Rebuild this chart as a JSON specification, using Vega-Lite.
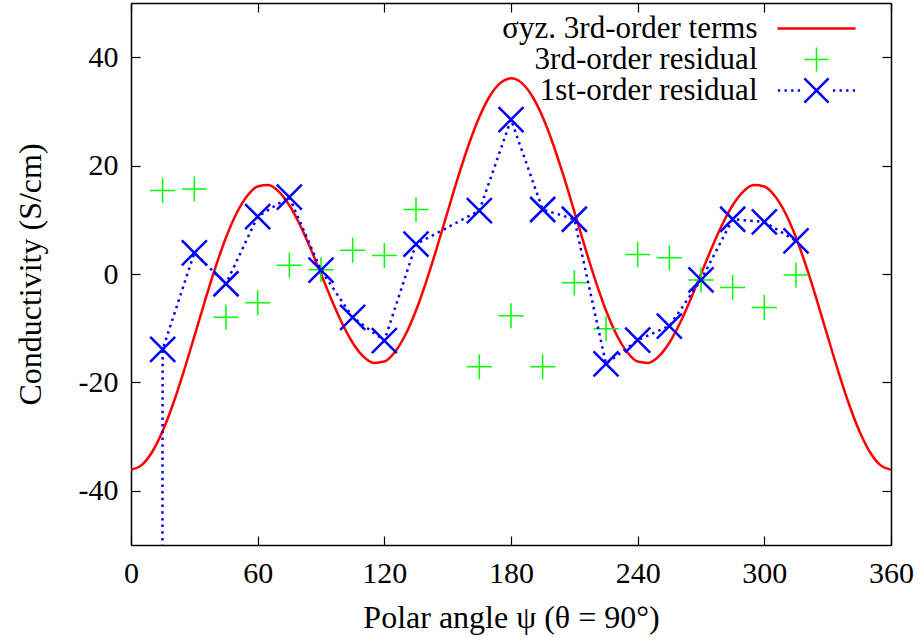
{
  "$schema": "https://vega.github.io/schema/vega-lite/v6.json",
  "width": 760,
  "height": 542,
  "autosize": {"type": "none"},
  "padding": {"left": 131, "top": 3, "right": 31, "bottom": 93},
  "background": "#ffffff",
  "config": {
    "font": "Liberation Serif",
    "view": {"stroke": null},
    "axis": {
      "domainColor": "#000000", "domainWidth": 1.5,
      "tickColor": "#000000", "tickWidth": 1.2, "tickSize": -9,
      "grid": false,
      "labelFont": "Liberation Serif", "labelFontSize": 30, "labelColor": "#000000",
      "titleFont": "Liberation Serif", "titleFontSize": 32, "titleFontWeight": "normal", "titleColor": "#000000"
    }
  },
  "datasets": {
    "curve": [
      {"psi": 0, "sigma": -36.1}, {"psi": 5, "sigma": -35.27}, {"psi": 10, "sigma": -32.84}, {"psi": 15, "sigma": -28.97},
      {"psi": 20, "sigma": -23.9}, {"psi": 25, "sigma": -17.95}, {"psi": 30, "sigma": -11.52}, {"psi": 35, "sigma": -4.99},
      {"psi": 40, "sigma": 1.21}, {"psi": 45, "sigma": 6.72}, {"psi": 50, "sigma": 11.2}, {"psi": 55, "sigma": 14.39},
      {"psi": 60, "sigma": 16.15}, {"psi": 65, "sigma": 16.4}, {"psi": 70, "sigma": 15.2}, {"psi": 75, "sigma": 12.68},
      {"psi": 80, "sigma": 9.09}, {"psi": 85, "sigma": 4.74}, {"psi": 90, "sigma": 0}, {"psi": 95, "sigma": -4.74},
      {"psi": 100, "sigma": -9.09}, {"psi": 105, "sigma": -12.68}, {"psi": 110, "sigma": -15.2}, {"psi": 115, "sigma": -16.4},
      {"psi": 120, "sigma": -16.15}, {"psi": 125, "sigma": -14.39}, {"psi": 130, "sigma": -11.2}, {"psi": 135, "sigma": -6.72},
      {"psi": 140, "sigma": -1.21}, {"psi": 145, "sigma": 4.99}, {"psi": 150, "sigma": 11.52}, {"psi": 155, "sigma": 17.95},
      {"psi": 160, "sigma": 23.9}, {"psi": 165, "sigma": 28.97}, {"psi": 170, "sigma": 32.84}, {"psi": 175, "sigma": 35.27},
      {"psi": 180, "sigma": 36.1}, {"psi": 185, "sigma": 35.27}, {"psi": 190, "sigma": 32.84}, {"psi": 195, "sigma": 28.97},
      {"psi": 200, "sigma": 23.9}, {"psi": 205, "sigma": 17.95}, {"psi": 210, "sigma": 11.52}, {"psi": 215, "sigma": 4.99},
      {"psi": 220, "sigma": -1.21}, {"psi": 225, "sigma": -6.72}, {"psi": 230, "sigma": -11.2}, {"psi": 235, "sigma": -14.39},
      {"psi": 240, "sigma": -16.15}, {"psi": 245, "sigma": -16.4}, {"psi": 250, "sigma": -15.2}, {"psi": 255, "sigma": -12.68},
      {"psi": 260, "sigma": -9.09}, {"psi": 265, "sigma": -4.74}, {"psi": 270, "sigma": 0}, {"psi": 275, "sigma": 4.74},
      {"psi": 280, "sigma": 9.09}, {"psi": 285, "sigma": 12.68}, {"psi": 290, "sigma": 15.2}, {"psi": 295, "sigma": 16.4},
      {"psi": 300, "sigma": 16.15}, {"psi": 305, "sigma": 14.39}, {"psi": 310, "sigma": 11.2}, {"psi": 315, "sigma": 6.72},
      {"psi": 320, "sigma": 1.21}, {"psi": 325, "sigma": -4.99}, {"psi": 330, "sigma": -11.52}, {"psi": 335, "sigma": -17.95},
      {"psi": 340, "sigma": -23.9}, {"psi": 345, "sigma": -28.97}, {"psi": 350, "sigma": -32.84}, {"psi": 355, "sigma": -35.27},
      {"psi": 360, "sigma": -36.1}
    ],
    "resid3": [
      {"psi": 15, "value": 15.4}, {"psi": 30, "value": 15.7}, {"psi": 45, "value": -8.0}, {"psi": 60, "value": -5.3},
      {"psi": 75, "value": 1.6}, {"psi": 90, "value": 0.8}, {"psi": 105, "value": 4.4}, {"psi": 120, "value": 3.4},
      {"psi": 135, "value": 11.9}, {"psi": 165, "value": -17.1}, {"psi": 180, "value": -7.7}, {"psi": 195, "value": -17.1},
      {"psi": 210, "value": -1.6}, {"psi": 225, "value": -10.1}, {"psi": 240, "value": 3.6}, {"psi": 255, "value": 3.0},
      {"psi": 270, "value": -1.1}, {"psi": 285, "value": -2.5}, {"psi": 300, "value": -6.2}, {"psi": 315, "value": -0.2}
    ],
    "resid1": [
      {"psi": 0, "value": -5000}, {"psi": 15, "value": -13.9}, {"psi": 30, "value": 3.9}, {"psi": 45, "value": -1.8},
      {"psi": 60, "value": 10.6}, {"psi": 75, "value": 14.2}, {"psi": 90, "value": 0.7}, {"psi": 105, "value": -8.0},
      {"psi": 120, "value": -12.3}, {"psi": 135, "value": 5.5}, {"psi": 165, "value": 11.7}, {"psi": 180, "value": 28.5},
      {"psi": 195, "value": 11.9}, {"psi": 210, "value": 10.1}, {"psi": 225, "value": -16.6}, {"psi": 240, "value": -12.2},
      {"psi": 255, "value": -9.6}, {"psi": 270, "value": -1.1}, {"psi": 285, "value": 10.1}, {"psi": 300, "value": 9.6},
      {"psi": 315, "value": 6.1}
    ]
  },
  "layer": [
    {
      "data": {"name": "curve"},
      "mark": {"type": "line", "clip": true, "strokeWidth": 2.5, "interpolate": "monotone"},
      "encoding": {
        "x": {
          "field": "psi", "type": "quantitative",
          "scale": {"domain": [0, 360], "nice": false, "zero": false},
          "axis": {
            "orient": "bottom", "values": [0, 60, 120, 180, 240, 300, 360],
            "title": "Polar angle ψ (θ = 90°)", "labelPadding": 22, "labelFlush": false,
            "titleX": 380, "titleY": 72, "titleBaseline": "middle", "titleAnchor": "middle", "titleAlign": "center"
          }
        },
        "y": {
          "field": "sigma", "type": "quantitative",
          "scale": {"domain": [-50, 50], "nice": false, "zero": false},
          "axis": {
            "orient": "left", "values": [-40, -20, 0, 20, 40],
            "labelExpr": "'' + datum.value",
            "title": "Conductivity (S/cm)", "labelPadding": 22, "labelFlush": false,
            "titleX": -101, "titleY": 271, "titleAngle": -90, "titleBaseline": "middle", "titleAlign": "center"
          }
        },
        "color": {
          "datum": "σyz. 3rd-order terms", "type": "nominal",
          "scale": {
            "domain": ["σyz. 3rd-order terms", "3rd-order residual", "1st-order residual"],
            "range": ["#ff0000", "#00ff00", "#0000ff"]
          },
          "legend": {
            "orient": "none", "legendX": 670, "legendY": 10,
            "title": null, "padding": 0,
            "symbolSize": 784, "symbolType": "stroke",
            "rowPadding": -7.5,
            "labelAlign": "right", "labelOffset": -74.5, "labelBaseline": "middle",
            "labelFont": "Liberation Serif", "labelFontSize": 31, "labelColor": "#000000", "labelLimit": 0,
            "encode": {
              "symbols": {
                "update": {
                  "shape": {"signal": "datum.index === 0 ? 'stroke' : datum.index === 1 ? 'M-0.31,0L0.31,0M0,-0.31L0,0.31' : 'M-0.99,0L-0.93,0M-0.82,0L-0.76,0M-0.65,0L-0.59,0M-0.48,0L-0.42,0M0.42,0L0.48,0M0.59,0L0.65,0M0.76,0L0.82,0M0.93,0L0.99,0M-0.31,-0.31L0.31,0.31M-0.31,0.31L0.31,-0.31'"},
                  "stroke": {"signal": "datum.index === 0 ? '#ff0000' : datum.index === 1 ? '#00ff00' : '#0000ff'"},
                  "strokeWidth": {"signal": "datum.index === 1 ? 1.5 : 2.5"},
                  "fill": {"value": "transparent"},
                  "size": {"value": 6084},
                  "opacity": {"value": 1},
                  "strokeDash": {"value": []}
                }
              }
            }
          }
        }
      }
    },
    {
      "data": {"name": "resid3"},
      "mark": {"type": "point", "clip": true, "filled": false, "shape": "M-1,0L1,0M0,-1L0,1", "size": 625, "strokeWidth": 1.5, "opacity": 1},
      "encoding": {
        "x": {"field": "psi", "type": "quantitative", "axis": {"orient": "top", "values": [0, 60, 120, 180, 240, 300, 360], "labels": false, "title": null}},
        "y": {"field": "value", "type": "quantitative", "axis": {"orient": "right", "values": [-40, -20, 0, 20, 40], "labels": false, "title": null}},
        "color": {"datum": "3rd-order residual", "type": "nominal"}
      }
    },
    {
      "data": {"name": "resid1"},
      "mark": {"type": "line", "clip": true, "strokeWidth": 2.5, "strokeDash": [2.5, 4.2]},
      "encoding": {
        "x": {"field": "psi", "type": "quantitative", "axis": null},
        "y": {"field": "value", "type": "quantitative", "axis": null},
        "color": {"datum": "1st-order residual", "type": "nominal"}
      }
    },
    {
      "data": {"name": "resid1"},
      "mark": {"type": "point", "clip": true, "filled": false, "shape": "M-1,-1L1,1M-1,1L1,-1", "size": 625, "strokeWidth": 2.5, "opacity": 1},
      "encoding": {
        "x": {"field": "psi", "type": "quantitative", "axis": null},
        "y": {"field": "value", "type": "quantitative", "axis": null},
        "color": {"datum": "1st-order residual", "type": "nominal"}
      }
    }
  ],
  "resolve": {"axis": {"x": "independent", "y": "independent"}}
}
